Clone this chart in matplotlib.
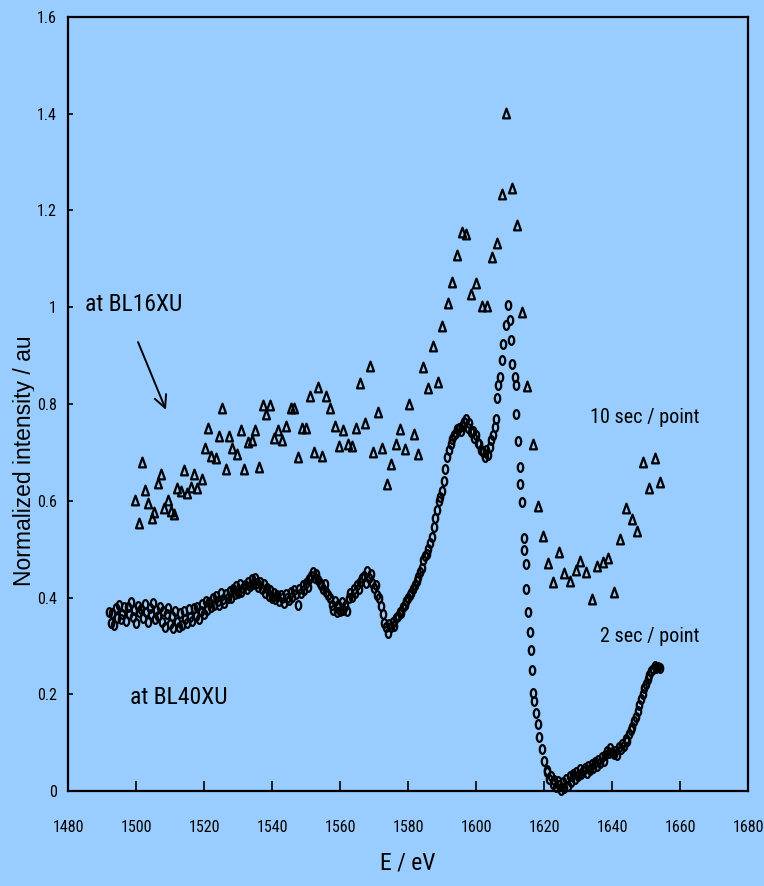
import numpy as np
import matplotlib
matplotlib.use('Agg')
import matplotlib.pyplot as plt
from matplotlib import font_manager
from matplotlib.path import Path
from matplotlib.ticker import FuncFormatter, MultipleLocator
from matplotlib.transforms import Bbox

BG = '#99ccff'

# BL16XU, 10 sec / point (triangles)
bl16_energy = [1499.8, 1500.9, 1501.9, 1502.7, 1503.5, 1504.6, 1505.3, 1506.6, 1507.4, 1508.3,
               1509.5, 1510.2, 1511.2, 1512.1, 1513.1, 1514.2, 1515.1, 1516.1, 1517.1, 1518.0,
               1519.3, 1520.3, 1521.3, 1522.0, 1523.4, 1524.4, 1525.4, 1526.6, 1527.4, 1528.3,
               1529.6, 1530.8, 1531.9, 1532.9, 1534.0, 1535.0, 1536.2, 1537.3, 1538.2, 1539.5,
               1540.7, 1541.9, 1543.0, 1544.1, 1545.6, 1546.6, 1547.7, 1548.8, 1550.0, 1551.3,
               1552.4, 1553.6, 1554.8, 1555.9, 1557.1, 1558.4, 1559.7, 1560.8, 1562.4, 1563.5,
               1564.7, 1566.0, 1567.4, 1568.7, 1569.8, 1571.3, 1572.4, 1573.9, 1575.1, 1576.4,
               1577.7, 1579.2, 1580.4, 1581.9, 1583.0, 1584.5, 1586.0, 1587.4, 1588.7, 1590.1,
               1591.7, 1593.0, 1594.5, 1595.9, 1597.1, 1598.6, 1600.1, 1601.9, 1603.3, 1604.8,
               1606.2, 1607.7, 1608.9, 1610.5, 1612.1, 1613.6, 1615.1, 1616.9, 1618.3, 1619.7,
               1621.3, 1622.7, 1624.5, 1626.0, 1627.7, 1629.4, 1630.7, 1632.4, 1634.2, 1635.6,
               1637.3, 1638.9, 1640.7, 1642.4, 1644.1, 1646.0, 1647.4, 1649.2, 1651.0, 1652.6,
               1654.2]
bl16_intensity = [0.602, 0.555, 0.681, 0.622, 0.596, 0.564, 0.577, 0.637, 0.655, 0.586,
                  0.602, 0.579, 0.573, 0.627, 0.621, 0.664, 0.617, 0.629, 0.655, 0.626,
                  0.644, 0.710, 0.750, 0.693, 0.689, 0.734, 0.791, 0.666, 0.734, 0.710,
                  0.696, 0.746, 0.666, 0.722, 0.726, 0.746, 0.669, 0.797, 0.779, 0.797,
                  0.729, 0.746, 0.726, 0.755, 0.792, 0.792, 0.690, 0.750, 0.750, 0.817,
                  0.701, 0.835, 0.693, 0.817, 0.792, 0.755, 0.714, 0.746, 0.717, 0.714,
                  0.751, 0.843, 0.760, 0.879, 0.701, 0.784, 0.710, 0.635, 0.676, 0.717,
                  0.748, 0.706, 0.801, 0.738, 0.697, 0.877, 0.834, 0.920, 0.846, 0.962,
                  1.008, 1.053, 1.107, 1.156, 1.151, 1.027, 1.050, 1.003, 1.003, 1.103,
                  1.132, 1.234, 1.401, 1.247, 1.169, 0.991, 0.838, 0.717, 0.590, 0.527,
                  0.472, 0.433, 0.495, 0.451, 0.434, 0.457, 0.476, 0.453, 0.397, 0.465,
                  0.474, 0.481, 0.411, 0.520, 0.584, 0.562, 0.537, 0.681, 0.627, 0.689,
                  0.639]

# BL40XU, 2 sec / point (circles): pre-edge scan, sampled every 0.5 eV from 1492 eV
bl40_pre_energy = np.arange(1492.0, 1606.01, 0.5)
bl40_pre_intensity = [
    0.370, 0.347, 0.367, 0.344, 0.378, 0.358, 0.385, 0.356, 0.366, 0.380,
    0.352, 0.381, 0.365, 0.390, 0.360, 0.374, 0.348, 0.383, 0.369, 0.377,
    0.358, 0.386, 0.371, 0.350, 0.379, 0.366, 0.388, 0.355, 0.375, 0.362,
    0.381, 0.349, 0.372, 0.340, 0.366, 0.378, 0.345, 0.361, 0.336, 0.373,
    0.350, 0.339, 0.368, 0.344, 0.372, 0.355, 0.347, 0.376, 0.360, 0.352,
    0.378, 0.362, 0.381, 0.355, 0.372, 0.386, 0.366, 0.392, 0.374, 0.390,
    0.380, 0.398, 0.385, 0.404, 0.392, 0.385, 0.410, 0.396, 0.388, 0.408,
    0.400, 0.414, 0.398, 0.418, 0.407, 0.423, 0.410, 0.428, 0.412, 0.420,
    0.425, 0.418, 0.433, 0.424, 0.438, 0.428, 0.440, 0.430, 0.422, 0.432,
    0.418, 0.428, 0.410, 0.420, 0.404, 0.415, 0.398, 0.410, 0.396, 0.406,
    0.392, 0.405, 0.398, 0.388, 0.408, 0.400, 0.395, 0.412, 0.402, 0.416,
    0.408, 0.384, 0.418, 0.410, 0.425, 0.416, 0.430, 0.422, 0.438, 0.445,
    0.452, 0.440, 0.448, 0.436, 0.430, 0.425, 0.418, 0.428, 0.412, 0.405,
    0.398, 0.385, 0.375, 0.392, 0.370, 0.385, 0.372, 0.390, 0.374, 0.382,
    0.372, 0.398, 0.410, 0.402, 0.418, 0.410, 0.425, 0.418, 0.432, 0.440,
    0.445, 0.430, 0.455, 0.440, 0.448, 0.430, 0.420, 0.425, 0.405, 0.398,
    0.382, 0.365, 0.348, 0.340, 0.326, 0.345, 0.338, 0.350, 0.342, 0.358,
    0.362, 0.370, 0.368, 0.380, 0.385, 0.392, 0.398, 0.405, 0.410, 0.418,
    0.425, 0.434, 0.443, 0.452, 0.462, 0.478, 0.485, 0.490, 0.500, 0.512,
    0.525, 0.545, 0.565, 0.580, 0.600, 0.608, 0.620, 0.640, 0.665, 0.690,
    0.705, 0.718, 0.728, 0.735, 0.740, 0.748, 0.750, 0.745, 0.755, 0.762,
    0.768, 0.750, 0.760, 0.742, 0.745, 0.730, 0.735, 0.720, 0.718, 0.705,
    0.700, 0.690, 0.705, 0.695, 0.712, 0.725, 0.735, 0.752, 0.770]

# BL40XU white line and edge (sparser points)
bl40_edge_energy = [1606.3, 1606.6, 1607.1, 1607.7, 1608.0, 1608.8, 1609.5, 1610.0, 1610.3, 1610.7,
                    1611.5, 1611.8, 1611.9, 1612.4, 1612.9, 1612.9, 1613.4, 1614.1, 1614.1, 1614.6,
                    1614.7, 1615.4, 1615.9, 1616.1, 1616.6, 1616.9, 1617.1, 1617.6, 1618.3, 1618.6,
                    1619.3, 1620.0, 1620.8]
bl40_edge_intensity = [0.812, 0.839, 0.856, 0.891, 0.925, 0.963, 1.005, 0.974, 0.932, 0.882,
                       0.855, 0.839, 0.779, 0.724, 0.670, 0.634, 0.598, 0.524, 0.498, 0.469,
                       0.418, 0.371, 0.328, 0.291, 0.250, 0.202, 0.186, 0.162, 0.139, 0.112,
                       0.086, 0.061, 0.043]

# BL40XU post-edge, sampled every 0.5 eV from 1621 eV
bl40_post_energy = np.arange(1621.0, 1654.01, 0.5)
bl40_post_intensity = [
    0.040, 0.025, 0.032, 0.015, 0.022, 0.008, 0.020, 0.012, 0.003, 0.018,
    0.006, 0.024, 0.010, 0.030, 0.018, 0.036, 0.025, 0.040, 0.030, 0.045,
    0.035, 0.042, 0.048, 0.038, 0.052, 0.044, 0.056, 0.048, 0.060, 0.052,
    0.064, 0.058, 0.070, 0.062, 0.075, 0.082, 0.078, 0.088, 0.080, 0.076,
    0.082, 0.074, 0.090, 0.086, 0.098, 0.094, 0.108, 0.104, 0.118, 0.126,
    0.132, 0.145, 0.152, 0.165, 0.178, 0.190, 0.200, 0.212, 0.222, 0.232,
    0.240, 0.248, 0.252, 0.258, 0.255, 0.256, 0.254]


def pick_narrow_font():
    """Look for an installed narrow / condensed sans font, else fall back."""
    found = {}
    for f in font_manager.fontManager.ttflist:
        if f.style != 'normal' or f.weight not in (400, 'normal', 'regular'):
            continue
        narrow = ('Narrow' in f.name or 'Condensed' in f.name
                  or f.stretch in ('condensed', 'semi-condensed', 'extra-condensed'))
        if narrow:
            found.setdefault(f.name, f.stretch)
    for name in ['Liberation Sans Narrow', 'Roboto Condensed', 'Open Sans Condensed']:
        if name in found:
            return dict(family=name, stretch=found[name]), 1.0
    return dict(family=['Liberation Sans', 'DejaVu Sans']), 0.8


NARROW, SCALE = pick_narrow_font()

# tall narrow marker shapes, as in the original
t = np.linspace(0, 2 * np.pi, 40)
ellipse_marker = Path(np.column_stack([0.31 * np.cos(t), 0.5 * np.sin(t)]), closed=True)
triangle_marker = Path([(-0.36, -0.5), (0.36, -0.5), (0.0, 0.5), (-0.36, -0.5)], closed=True)

fig = plt.figure(figsize=(7.64, 8.86), dpi=100, facecolor=BG)
ax = fig.add_axes([68 / 764, 1 - 791 / 886, 680 / 764, 774 / 886], facecolor=BG)

marker_style = dict(ls='none', mfc='none', mec='black', mew=1.6, clip_on=False)
ax.plot(bl16_energy, bl16_intensity, marker=triangle_marker, ms=7, **marker_style)
for e, i in [(bl40_pre_energy, bl40_pre_intensity), (bl40_edge_energy, bl40_edge_intensity),
             (bl40_post_energy, bl40_post_intensity)]:
    ax.plot(e, i, marker=ellipse_marker, ms=6.3, **marker_style)

ax.set_xlim(1480, 1680)
ax.set_ylim(0, 1.6)
ax.xaxis.set_major_locator(MultipleLocator(20))
ax.yaxis.set_major_locator(MultipleLocator(0.2))
ax.yaxis.set_major_formatter(FuncFormatter(lambda v, p: f'{v:g}'))
for s in ax.spines.values():
    s.set_linewidth(1.6)
tick_size = 11.5 * SCALE
ax.tick_params(axis='x', direction='in', length=7.5, width=1.2, pad=21, labelsize=tick_size)
ax.tick_params(axis='y', direction='in', length=3.5, width=1.2, pad=8, labelsize=tick_size)
for lab in ax.get_xticklabels() + ax.get_yticklabels():
    lab.set_fontproperties(font_manager.FontProperties(size=tick_size, **NARROW))

ax.set_xlabel('E / eV', fontsize=17 * SCALE, labelpad=12, **NARROW)

# y label: its descenders are cut off in the original
ylab = fig.text(36 / 764, 0.48, 'Normalized intensity / au', rotation=90, ha='right', va='center',
                family=['Liberation Sans', 'DejaVu Sans'], fontsize=16.5 * (0.5 + SCALE / 2))
ylab.set_clip_box(Bbox.from_extents(0, 0, 34, 886))
ylab.set_clip_on(True)

ax.text(1485, 1.005, 'at BL16XU', fontsize=17 * SCALE, va='center', **NARROW)
ax.text(1498.2, 0.194, 'at BL40XU', fontsize=17 * SCALE, va='center', **NARROW)
ax.text(1633.5, 0.773, '10 sec / point', fontsize=14.5 * SCALE, va='center', **NARROW)
ax.text(1636.5, 0.320, '2 sec / point', fontsize=14.5 * SCALE, va='center', **NARROW)
ax.annotate('', xy=(1508.8, 0.788), xytext=(1500.6, 0.928),
            arrowprops=dict(arrowstyle='->', lw=1.4, color='black', mutation_scale=22,
                            shrinkA=0, shrinkB=0))

fig.savefig('out.png', dpi=100, facecolor=BG)
